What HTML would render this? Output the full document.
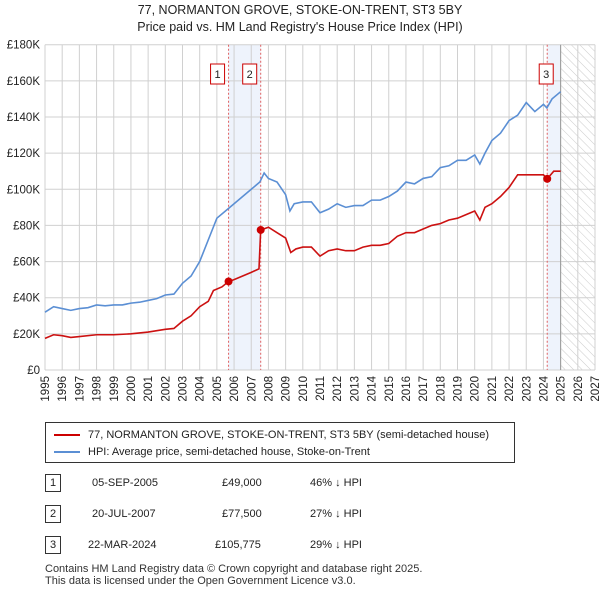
<!DOCTYPE html>
<html><head><meta charset="utf-8"><style>
body{margin:0;width:600px;height:590px;background:#fff;font-family:"Liberation Sans","DejaVu Sans",sans-serif;color:#222;position:relative;overflow:hidden}
.t{position:absolute;left:0;width:600px;text-align:center;font-size:12.5px}
.row{position:absolute;font-size:11px}
.num{position:absolute;left:45px;width:14px;height:16px;border:1px solid #333;font-size:11px;text-align:center;line-height:16px}
</style></head><body>
<div class="t" style="top:3px">77, NORMANTON GROVE, STOKE-ON-TRENT, ST3 5BY</div>
<div class="t" style="top:20px">Price paid vs. HM Land Registry's House Price Index (HPI)</div>
<svg id="chart" width="600" height="410" style="position:absolute;left:0;top:0"></svg>
<div style="position:absolute;left:45px;top:422px;width:468px;height:39px;border:1px solid #333;font-size:11px">
<div style="position:absolute;left:8px;top:6px"><span style="display:inline-block;width:26px;height:2px;background:#cc0000;vertical-align:middle;margin-right:8px"></span>77, NORMANTON GROVE, STOKE-ON-TRENT, ST3 5BY (semi-detached house)</div>
<div style="position:absolute;left:8px;top:23px"><span style="display:inline-block;width:26px;height:2px;background:#5b8fd4;vertical-align:middle;margin-right:8px"></span>HPI: Average price, semi-detached house, Stoke-on-Trent</div>
</div>
<div>
<div class="num" style="top:474px">1</div><div class="row" style="left:92px;top:477px">05-SEP-2005</div><div class="row" style="left:222px;top:477px">£49,000</div><div class="row" style="left:310px;top:477px">46% ↓ HPI</div></div>
<div>
<div class="num" style="top:505px">2</div><div class="row" style="left:92px;top:508px">20-JUL-2007</div><div class="row" style="left:222px;top:508px">£77,500</div><div class="row" style="left:310px;top:508px">27% ↓ HPI</div></div>
<div>
<div class="num" style="top:536px">3</div><div class="row" style="left:88px;top:539px">22-MAR-2024</div><div class="row" style="left:215px;top:539px">£105,775</div><div class="row" style="left:310px;top:539px">29% ↓ HPI</div></div>
<div style="position:absolute;left:45px;top:563px;font-size:11px;line-height:12px;color:#333">Contains HM Land Registry data © Crown copyright and database right 2025.<br>This data is licensed under the Open Government Licence v3.0.</div>
<script>
const hpiYears=[1995,1995.5,1996,1996.5,1997,1997.5,1998,1998.5,1999,1999.5,2000,2000.5,2001,2001.5,2002,2002.5,2003,2003.5,2004,2004.5,2005,2005.5,2006,2006.5,2007,2007.5,2007.75,2008,2008.5,2009,2009.25,2009.5,2010,2010.5,2011,2011.5,2012,2012.5,2013,2013.5,2014,2014.5,2015,2015.5,2016,2016.5,2017,2017.5,2018,2018.5,2019,2019.5,2020,2020.3,2020.6,2021,2021.5,2022,2022.5,2023,2023.5,2024,2024.2,2024.5,2025];
const hpiValues=[32,35,34,33,34,34.5,36,35.5,36,36,37,37.5,38.5,39.5,41.5,42,48,52,60,72,84,88,92,96,100,104,109,106,104,97,88,92,93,93,87,89,92,90,91,91,94,94,96,99,104,103,106,107,112,113,116,116,119,114,120,127,131,138,141,148,143,147,145,150,154];
const redYears=[1995,1995.5,1996,1996.5,1997,1998,1999,2000,2001,2002,2002.5,2003,2003.5,2004,2004.5,2004.8,2005.3,2005.68,2006,2006.5,2007,2007.45,2007.55,2008,2008.5,2009,2009.3,2009.6,2010,2010.5,2011,2011.5,2012,2012.5,2013,2013.5,2014,2014.5,2015,2015.5,2016,2016.5,2017,2017.5,2018,2018.5,2019,2019.5,2020,2020.3,2020.6,2021,2021.5,2022,2022.5,2023,2023.5,2024,2024.22,2024.6,2025];
const redValues=[17.5,19.5,19,18,18.5,19.5,19.5,20,21,22.5,23,27,30,35,38,44,46,49,50,52,54,56,77.5,79,76,73,65,67,68,68,63,66,67,66,66,68,69,69,70,74,76,76,78,80,81,83,84,86,88,83,90,92,96,101,108,108,108,108,105.775,110,110];
const saleYears=[2005.68,2007.55,2024.22];
const saleValues=[49,77.5,105.775];
const saleLabels=["1","2","3"];
const yTicks=[0,20,40,60,80,100,120,140,160,180];
const yTickLabels=["£0","£20K","£40K","£60K","£80K","£100K","£120K","£140K","£160K","£180K"];
const xTicks=[1995,1996,1997,1998,1999,2000,2001,2002,2003,2004,2005,2006,2007,2008,2009,2010,2011,2012,2013,2014,2015,2016,2017,2018,2019,2020,2021,2022,2023,2024,2025,2026,2027];
const L=45,R=595,T=44.7,B=370;
const X=y=>L+(y-1995)/(2027-1995)*(R-L);
const Y=v=>B-v/180*(B-T);
const svg=document.getElementById('chart');const NS='http://www.w3.org/2000/svg';
function add(tag,a,p){const e=document.createElementNS(NS,tag);for(const k in a)e.setAttribute(k,a[k]);(p||svg).appendChild(e);return e;}
const defs=add('defs',{});
const pat=add('pattern',{id:'hatch',width:6,height:6,patternUnits:'userSpaceOnUse',patternTransform:'rotate(-45)'},defs);
add('line',{x1:0,y1:0,x2:0,y2:6,stroke:'#ccc','stroke-width':1},pat);
let e;
e=add('rect',{x:X(saleYears[0]),y:T,width:X(saleYears[1])-X(saleYears[0]),height:B-T,fill:'#eef3fc'});

e=add('rect',{x:X(saleYears[2]),y:T,width:X(2025)-X(saleYears[2]),height:B-T,fill:'#eef3fc'});

e=add('rect',{x:X(2025),y:T,width:R-X(2025),height:B-T,fill:'url(#hatch)'});

xTicks.forEach(t=>{e=add('line',{x1:X(t),x2:X(t),y1:T,y2:B,stroke:'#d0d0d0'});
 e=add('text',{x:0,y:0,transform:`translate(${X(t)+4},${B+6}) rotate(-90)`,'text-anchor':'end','font-size':11.5,fill:'#222'});e.textContent=t;});
yTicks.forEach((t,i)=>{e=add('line',{x1:L,x2:R,y1:Y(t),y2:Y(t),stroke:'#d0d0d0'});
 e=add('text',{x:L-5,y:Y(t)+4,'text-anchor':'end','font-size':11.5,fill:'#222'});e.textContent=yTickLabels[i];});
e=add('line',{x1:X(2025),x2:X(2025),y1:T,y2:B,stroke:'#999'});
saleYears.forEach(s=>{e=add('line',{x1:X(s),x2:X(s),y1:T,y2:B,stroke:'#e06060','stroke-dasharray':'2,2'});});
function path(xs,vs,c,n){e=add('polyline',{points:xs.map((x,i)=>X(x)+','+Y(vs[i])).join(' '),fill:'none',stroke:c,'stroke-width':1.6});}
path(hpiYears,hpiValues,'#5b8fd4','hpi-line');
path(redYears,redValues,'#cc1111','property-line');
saleYears.forEach((s,i)=>{e=add('circle',{cx:X(s),cy:Y(saleValues[i]),r:4,fill:'#cc0000'});
 e=add('rect',{x:X(s)-18+(i==2?10:0),y:64,width:14,height:20,fill:'#fff',stroke:'#cc0000'});
 e=add('text',{x:X(s)-11+(i==2?10:0),y:78,'text-anchor':'middle','font-size':11,fill:'#222'});e.textContent=saleLabels[i];});
</script>
</body></html>
